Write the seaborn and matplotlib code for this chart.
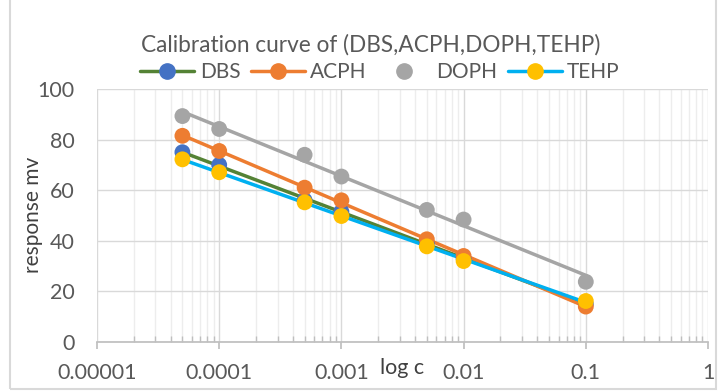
import numpy as np
import pandas as pd
import seaborn as sns
import matplotlib
matplotlib.use("Agg")
import matplotlib.pyplot as plt
from matplotlib.lines import Line2D
from matplotlib.patches import Rectangle
from matplotlib.ticker import LogLocator, NullFormatter

conc = [0.00005, 0.0001, 0.0005, 0.001, 0.005, 0.01, 0.1]
dbs = [75.0, 70.0, 56.0, 51.5, 39.0, 33.0, 15.0]
acph = [81.5, 75.5, 61.0, 56.0, 40.6, 34.0, 14.0]
doph = [89.3, 84.2, 74.0, 65.4, 52.2, 48.4, 23.8]
tehp = [72.2, 67.1, 55.2, 49.8, 37.8, 32.0, 16.2]
xticks = [0.00001, 0.0001, 0.001, 0.01, 0.1, 1]
xtick_labels = ["0.00001", "0.0001", "0.001", "0.01", "0.1", "1"]
yticks = [0, 20, 40, 60, 80, 100]

series = {"DBS": dbs, "ACPH": acph, "DOPH": doph, "TEHP": tehp}
marker_colors = {"DBS": "#4472C4", "ACPH": "#ED7D31", "DOPH": "#A5A5A5", "TEHP": "#FFC000"}
line_colors = {"DBS": "#548235", "ACPH": "#ED7D31", "DOPH": "#A5A5A5", "TEHP": "#00B0F0"}

df = pd.concat([pd.DataFrame({"c": conc, "mv": v, "series": k}) for k, v in series.items()],
               ignore_index=True)

sns.set_theme(style="white")
plt.rcParams["font.family"] = ["Lato", "DejaVu Sans"]

fig = plt.figure(figsize=(7.2, 3.92), dpi=100)
ax = fig.add_axes([97/720, 1 - 342/392, (708-97)/720, (342-89)/392])

for k in series:
    sub = df[df.series == k]
    sns.regplot(data=sub, x="c", y="mv", logx=True, ci=None, scatter=False, ax=ax,
                truncate=True, line_kws=dict(color=line_colors[k], lw=2.5, zorder=2))
for k in series:
    sub = df[df.series == k]
    sns.scatterplot(data=sub, x="c", y="mv", ax=ax, color=marker_colors[k], s=130,
                    edgecolor="none", zorder=3, legend=False)

ax.set_xscale("log")
ax.set_xlim(0.00001, 1)
ax.set_ylim(0, 100)
ax.set_yticks(yticks)
ax.set_xticks(xticks)
ax.set_xticklabels(xtick_labels)
ax.xaxis.set_minor_locator(LogLocator(base=10, subs=np.arange(2, 10), numticks=20))
ax.xaxis.set_minor_formatter(NullFormatter())
ax.grid(True, which="major", color="#D9D9D9", lw=1)
ax.grid(True, which="minor", axis="x", color="#EDEDED", lw=1)
ax.set_axisbelow(True)
for s in ["top", "right", "left"]:
    ax.spines[s].set_visible(False)
ax.spines["bottom"].set_color("#BFBFBF")
ax.tick_params(axis="x", which="major", direction="out", length=5, color="#BFBFBF",
               labelsize=15.5, labelcolor="#595959", pad=10, bottom=True)
ax.tick_params(axis="x", which="minor", direction="in", length=4, color="#BFBFBF", bottom=True)
ax.tick_params(axis="y", labelsize=15.5, labelcolor="#595959", length=0, pad=16)
ax.set_xlabel("")
ax.set_ylabel("")
fig.text(33/720, 1 - 215/392, "response mv", rotation=90, ha="center", va="center",
         fontsize=15, color="#404040")
fig.text(402/720, 1 - 368/392, "log c", ha="center", va="center", fontsize=15.5, color="#404040")
fig.text(371/720, 1 - 45/392, "Calibration curve of (DBS,ACPH,DOPH,TEHP)", ha="center",
         va="center", fontsize=16.3, color="#595959")

handles = [
    Line2D([], [], color=line_colors["DBS"], lw=2.5, marker="o", markersize=11,
           markerfacecolor=marker_colors["DBS"], markeredgecolor=marker_colors["DBS"]),
    Line2D([], [], color=line_colors["ACPH"], lw=2.5, marker="o", markersize=11,
           markerfacecolor=marker_colors["ACPH"], markeredgecolor=marker_colors["ACPH"]),
    Line2D([], [], color="none", lw=0, marker="o", markersize=11,
           markerfacecolor=marker_colors["DOPH"], markeredgecolor=marker_colors["DOPH"]),
    Line2D([], [], color=line_colors["TEHP"], lw=2.5, marker="o", markersize=11,
           markerfacecolor=marker_colors["TEHP"], markeredgecolor=marker_colors["TEHP"]),
]
fig.legend(handles, list(series.keys()), loc="center", bbox_to_anchor=(380/720, 1 - 72/392),
           ncol=4, frameon=False, fontsize=15, handlelength=2.6, handletextpad=0.25,
           columnspacing=0.5, labelcolor="#595959", borderpad=0)

fig.patches.append(Rectangle((10/720, 3/392), (716-10)/720, 1.2, transform=fig.transFigure,
                             fill=False, edgecolor="#D9D9D9", lw=1.5))
fig.savefig("out.png", dpi=100)
